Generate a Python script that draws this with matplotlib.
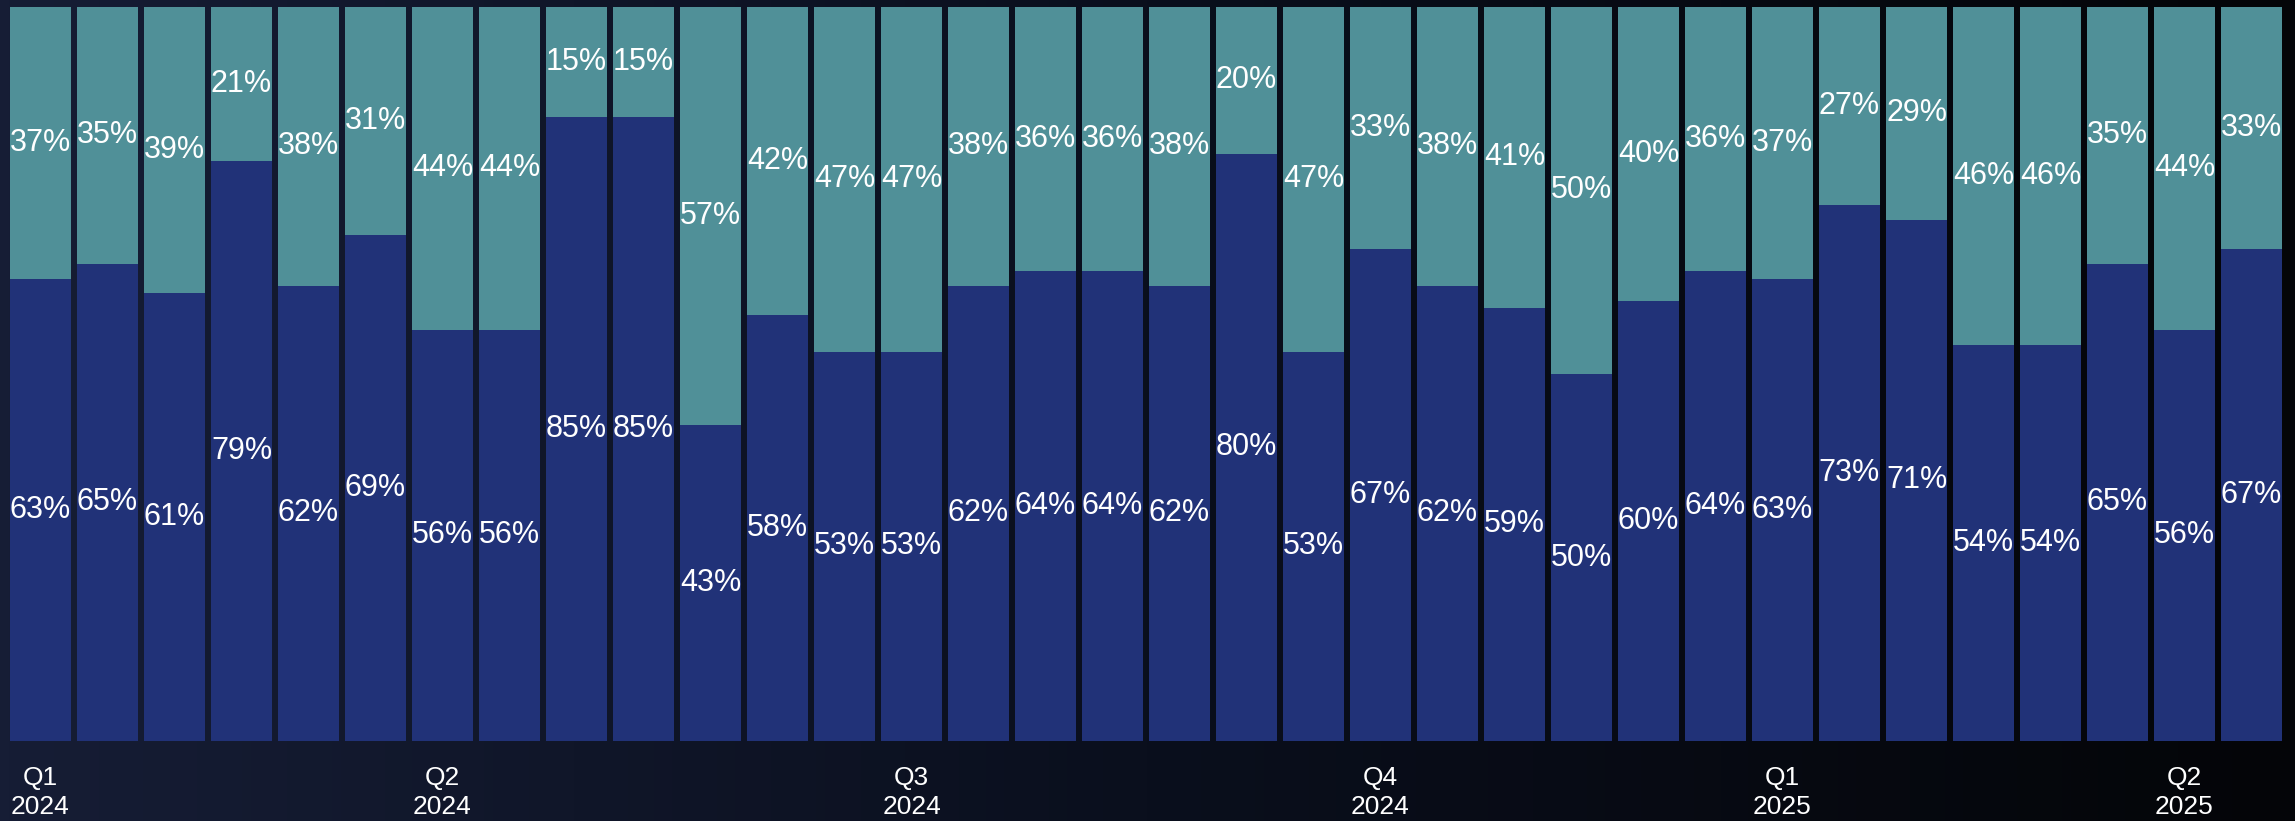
import numpy as np
import matplotlib
matplotlib.use("Agg")
import matplotlib.pyplot as plt
from matplotlib.colors import LinearSegmentedColormap

plt.rcParams['font.family'] = ['Liberation Sans', 'DejaVu Sans']

# share per period (%)
navy_vals = [63, 65, 61, 79, 62, 69, 56, 56, 85, 85, 43, 58, 53, 53, 62, 64, 64,
             62, 80, 53, 67, 62, 59, 50, 60, 64, 63, 73, 71, 54, 54, 65, 56, 67]
teal_vals = [37, 35, 39, 21, 38, 31, 44, 44, 15, 15, 57, 42, 47, 47, 38, 36, 36,
             38, 20, 47, 33, 38, 41, 50, 40, 36, 37, 27, 29, 46, 46, 35, 44, 33]
tick_pos = [0, 6, 13, 20, 26, 32]
tick_labels = ["Q1\n2024", "Q2\n2024", "Q3\n2024", "Q4\n2024", "Q1\n2025", "Q2\n2025"]

NAVY = "#213278"
TEAL = "#509098"

W, H = 2295, 821
fig = plt.figure(figsize=(W / 100, H / 100), dpi=100)
fig.patch.set_facecolor("#070a12")

# dark background gradient
bg = fig.add_axes([0, 0, 1, 1], zorder=0)
grad = np.linspace(0, 1, 256)[None, :]
cmap = LinearSegmentedColormap.from_list("bg", ["#161d35", "#0a0f1d", "#040508"])
bg.imshow(grad, aspect="auto", cmap=cmap, extent=[0, 1, 0, 1])
bg.axis("off")

ax = fig.add_axes([7 / W, 80 / H, 2278 / W, 734 / H], zorder=1)
ax.patch.set_alpha(0)
x = np.arange(len(navy_vals))
ax.bar(x, navy_vals, width=0.91, color=NAVY)
ax.bar(x, teal_vals, width=0.91, bottom=navy_vals, color=TEAL)

for i, (n, t) in enumerate(zip(navy_vals, teal_vals)):
    ax.text(i, n / 2, f"{n}%", ha="center", va="center", color="white", fontsize=22)
    ax.text(i, n + t / 2, f"{t}%", ha="center", va="center", color="white", fontsize=22)

ax.set_xlim(-0.5, len(navy_vals) - 0.5)
ax.set_ylim(0, 100)
ax.set_yticks([])
ax.set_xticks(tick_pos)
ax.set_xticklabels(tick_labels, color="white", fontsize=19, linespacing=1.25)
ax.tick_params(axis="x", length=0, pad=18)
for s in ax.spines.values():
    s.set_visible(False)

fig.savefig("out.png", dpi=100, facecolor=fig.get_facecolor())
